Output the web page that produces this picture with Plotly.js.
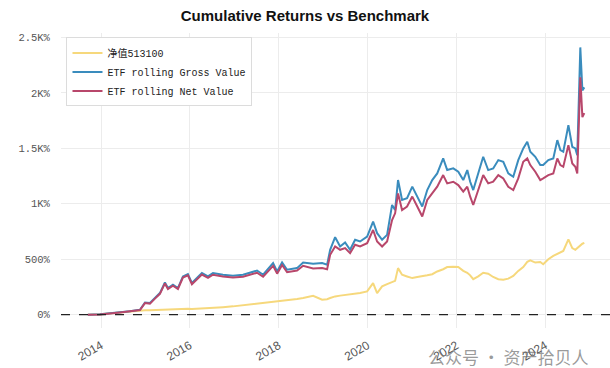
<!DOCTYPE html>
<html>
<head>
<meta charset="utf-8">
<script src="https://cdn.plot.ly/plotly-3.0.1.min.js"></script>
<style>html,body{margin:0;padding:0;background:#fff;}#chart{width:610px;height:368px;}</style>
</head>
<body>
<div id="chart"></div>
<script>
const dates = ["2013-09-15","2013-12-23","2014-06-05","2014-08-26","2014-11-17","2014-12-28","2015-02-07","2015-03-20","2015-04-30","2015-06-10",
"2015-07-05","2015-08-15","2015-09-25","2015-11-05","2015-12-16","2016-01-18","2016-02-28","2016-04-09","2016-05-29","2016-07-09",
"2016-09-29","2016-12-20","2017-03-13","2017-07-06","2017-08-25","2017-11-15","2017-12-18","2018-01-28","2018-03-10","2018-05-31",
"2018-07-20","2018-10-10","2018-12-23","2019-02-02","2019-02-27","2019-04-09","2019-05-20","2019-06-30","2019-08-10","2019-09-20",
"2019-10-31","2019-12-28","2020-02-15","2020-03-19","2020-04-29","2020-06-09","2020-07-20","2020-08-14","2020-09-07","2020-10-10",
"2020-11-20","2021-01-02","2021-02-12","2021-03-25","2021-05-05","2021-06-15","2021-07-26","2021-09-13","2021-10-16","2021-12-05",
"2022-01-15","2022-02-25","2022-03-30","2022-04-23","2022-05-18","2022-06-28","2022-08-08","2022-09-18","2022-10-29","2022-12-10",
"2023-01-20","2023-03-02","2023-04-12","2023-05-23","2023-07-03","2023-08-05","2023-08-30","2023-10-10","2023-11-20","2023-12-14",
"2024-01-25","2024-03-06","2024-04-08","2024-05-03","2024-05-27","2024-07-08","2024-08-09","2024-09-03","2024-09-19","2024-10-14",
"2024-10-31","2024-11-16"];

const navBenchmark = [0,5,20,30,38,40,40,42,45,48,
46,47,50,52,54,52,54,55,58,62,
68,75,85,100,108,118,122,126,126,142,
150,171,135,140,150,165,172,178,180,190,
195,210,285,195,255,275,295,305,420,360,
345,330,340,345,355,365,390,410,430,432,
430,395,378,355,320,345,378,370,340,320,
315,325,350,395,430,477,490,470,475,455,
500,530,550,567,575,680,600,585,600,630,
640,647];

const grossValue = [0,3,22,30,45,110,105,150,195,290,
240,270,240,345,366,285,330,375,345,375,
360,351,360,398,360,465,390,471,405,420,
471,459,465,450,585,699,615,651,585,675,
660,705,840,735,675,720,990,944,1214,1034,
1050,1155,1065,975,1124,1214,1274,1409,1304,1319,
1289,1214,1304,1199,1124,1274,1424,1304,1319,1394,
1379,1274,1244,1394,1499,1559,1469,1424,1349,1349,
1394,1409,1574,1484,1469,1709,1514,1499,1439,2410,
2023,2050];

const netValue = [0,2,20,28,42,105,100,145,188,282,
232,262,232,335,355,275,320,362,332,360,
345,335,342,378,342,440,370,448,383,398,
441,417,420,410,540,615,585,600,555,630,
615,645,764,660,615,660,854,914,1094,944,
975,1065,975,885,1034,1094,1154,1259,1184,1199,
1169,1109,1154,1064,989,1124,1259,1184,1199,1259,
1229,1154,1124,1229,1379,1409,1349,1289,1214,1229,
1259,1274,1409,1349,1334,1529,1364,1334,1274,2140,
1781,1817];

const seriesNames = ["净值513100","ETF rolling Gross Value","ETF rolling Net Value"];
const yTickVals = [0,500,1000,1500,2000,2500];
const yTickText = ["0%","500%","1K%","1.5K%","2K%","2.5K%"];
const xTickVals = ["2014-01-01","2016-01-01","2018-01-01","2020-01-01","2022-01-01","2024-01-01"];
const xTickText = ["2014","2016","2018","2020","2022","2024"];

const traces = [
  {x: dates, y: navBenchmark, name: seriesNames[0], type: "scatter", mode: "lines", line: {color: "#F6D87C", width: 2}},
  {x: dates, y: grossValue, name: seriesNames[1], type: "scatter", mode: "lines", line: {color: "#3A8CBD", width: 2}},
  {x: dates, y: netValue, name: seriesNames[2], type: "scatter", mode: "lines", line: {color: "#B8476B", width: 2}}
];

const monoFont = "Liberation Mono, DejaVu Sans Mono, Noto Sans CJK SC, monospace";

const layout = {
  width: 610, height: 368,
  margin: {l: 61, r: 0, t: 33, b: 40},
  paper_bgcolor: "#fff", plot_bgcolor: "#fff",
  title: {text: "<b>Cumulative Returns vs Benchmark</b>", x: 0.5, xanchor: "center", y: 0.972, yanchor: "top",
          font: {family: "Liberation Sans, Arial, sans-serif", size: 15, color: "#111"}},
  xaxis: {type: "date", range: ["2013-02-06", "2025-06-15"], tickvals: xTickVals, ticktext: xTickText,
          tickangle: -30, showgrid: true, gridcolor: "#ececec", zeroline: false, showline: false,
          ticks: "outside", ticklen: 5, tickcolor: "rgba(0,0,0,0)",
          tickfont: {family: "Liberation Sans, Arial, sans-serif", size: 12, color: "#555"}},
  yaxis: {range: [-120, 2540], tickvals: yTickVals, ticktext: yTickText, showgrid: true, gridcolor: "#ececec",
          zeroline: false, showline: false, ticks: "outside", ticklen: 8, tickcolor: "rgba(0,0,0,0)",
          tickfont: {family: monoFont, size: 10.5, color: "#555"}},
  legend: {x: 0.01, y: 0.985, xanchor: "left", yanchor: "top", bgcolor: "#fff", bordercolor: "#dcdcdc", borderwidth: 1,
           font: {family: monoFont, size: 10, color: "#222"}, tracegroupgap: 0, itemwidth: 30},
  showlegend: true,
  shapes: [{type: "line", xref: "paper", x0: 0, x1: 1, yref: "y", y0: 0, y1: 0,
            line: {color: "#222", width: 1.2, dash: "dash"}}],
  annotations: [{text: "公众号 · 资产拾贝人", xref: "paper", yref: "paper", x: 0.965, y: -0.095, xanchor: "right", yanchor: "middle",
                 showarrow: false, font: {family: "Noto Sans CJK SC, sans-serif", size: 17, color: "rgba(110,110,110,0.7)"}}]
};

Plotly.newPlot("chart", traces, layout, {displayModeBar: false, responsive: false});
</script>
</body>
</html>
